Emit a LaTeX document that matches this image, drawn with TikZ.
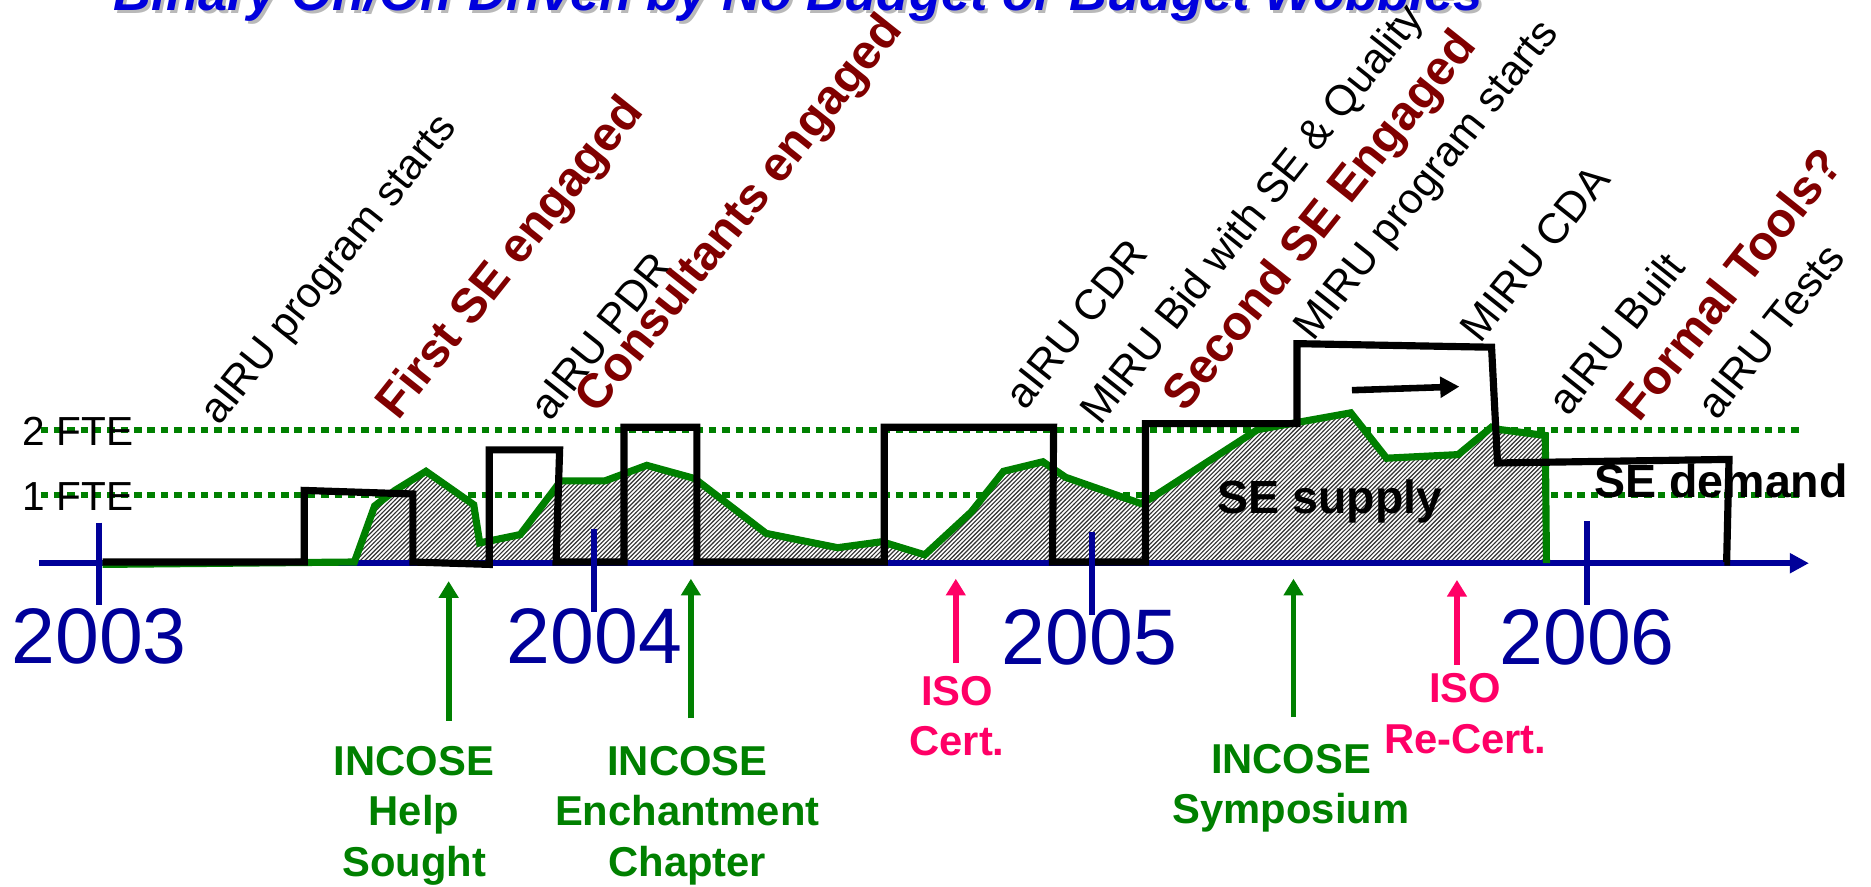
\documentclass[tikz,border=0pt]{standalone}
\usepackage{fontspec}
\setmainfont{Liberation Sans}
\usetikzlibrary{arrows.meta,patterns}
\definecolor{axisblue}{RGB}{0,0,153}
\definecolor{ftegreen}{RGB}{0,128,0}
\definecolor{sered}{RGB}{128,0,0}
\definecolor{isopink}{RGB}{255,0,102}
\definecolor{titleblue}{RGB}{0,0,221}
\pgfdeclarepatternformonly{sehatch}{\pgfqpoint{-1pt}{-1pt}}{\pgfqpoint{4.6pt}{4.6pt}}{\pgfqpoint{3.6pt}{3.6pt}}{%
  \pgfsetlinewidth{0.95pt}%
  \pgfpathmoveto{\pgfqpoint{-0.1pt}{-0.1pt}}%
  \pgfpathlineto{\pgfqpoint{3.7pt}{3.7pt}}%
  \pgfusepath{stroke}}
\begin{document}
\begin{tikzpicture}[x=1pt,y=-1pt,
  lbl/.style={anchor=base west,inner sep=0pt,rotate=51.5,font=\fontsize{35.6}{42}\selectfont},
  redlbl/.style={anchor=base west,inner sep=0pt,rotate=51.5,text=sered,font=\fontsize{40.5}{48}\selectfont\bfseries},
  yearlbl/.style={anchor=base,inner sep=0pt,text=axisblue,font=\fontsize{66}{70}\selectfont},
  ftelbl/.style={anchor=base west,inner sep=0pt,font=\fontsize{34}{40}\selectfont},
  notelbl/.style={anchor=north,inner sep=0pt,align=center,font=\fontsize{35}{42}\selectfont\bfseries},
  bigword/.style={anchor=base west,inner sep=0pt,font=\fontsize{39}{44}\selectfont\bfseries},
  titletext/.style={anchor=base west,inner sep=0pt,font=\fontsize{44}{50}\selectfont\bfseries\itshape},
  fteline/.style={ftegreen,line width=5pt,dash pattern=on 6.2pt off 5pt},
  yeartick/.style={axisblue,line width=4.8pt},
  axisline/.style={axisblue,line width=4.8pt,-{Triangle[length=16pt,width=16pt]}},
  supplyline/.style={ftegreen,line width=6pt},
  demandline/.style={black,line width=6pt},
  evarrow/.style={line width=4.8pt,-{Triangle[length=14pt,width=16pt]}},
  shiftarrow/.style={black,line width=5.5pt,-{Triangle[length=16pt,width=17pt]}}
]
\useasboundingbox (0,0) rectangle (1568,743);
\clip (0,0) rectangle (1568,743);

% title (cropped at the top)
\node[titletext,text=gray!55] (titleshadow) at (97.5,11) {Binary On/Off Driven by No Budget or Budget Wobbles};
\node[titletext,text=titleblue] (title) at (95,8.5) {Binary On/Off Driven by No Budget or Budget Wobbles};

% FTE levels
\coordinate (f2a) at (34,360); \coordinate (f2b) at (1512,360);
\coordinate (f1a) at (34,415); \coordinate (f1b) at (1512,415);
\draw[fteline] (f2a) -- (f2b);
\draw[fteline] (f1a) -- (f1b);

% SE supply area
\path[preaction={fill=white},pattern=sehatch,pattern color=black!80]
  (297,470) -- (314,424) -- (331,411) -- (357,395) -- (397,423) -- (402,455) -- (436,448)
  -- (470,403) -- (507,403) -- (542,390) -- (582,401) -- (642,447) -- (702,459) -- (739,454)
  -- (775,465) -- (814,429) -- (841,395) -- (874,387) -- (893,400) -- (956,422) -- (964,418)
  -- (1054,360) -- (1132,346) -- (1162,384) -- (1222,381) -- (1250,358) -- (1257,360)
  -- (1295,365) -- (1296,470) -- cycle;

% time axis
\coordinate (ax0) at (33,472); \coordinate (ax1) at (1516,472);
\draw[axisline] (ax0) -- (ax1);

% supply outline
\draw[supplyline] (86,473) -- (297,471) -- (314,424) -- (331,411) -- (357,395) -- (397,423)
  -- (402,455) -- (436,448) -- (470,403) -- (507,403) -- (542,390) -- (582,401) -- (642,447)
  -- (702,459) -- (739,454) -- (775,465) -- (814,429) -- (841,395) -- (874,387) -- (893,400)
  -- (956,422) -- (964,418) -- (1054,360) -- (1132,346) -- (1162,384) -- (1222,381)
  -- (1250,358) -- (1257,360) -- (1295,365) -- (1296,472);

% demand
\draw[demandline] (86,471) -- (255,471) -- (255,411) -- (346,414) -- (346,471) -- (410,473)
  -- (410,377) -- (469,377) -- (466,471) -- (523,471) -- (523,358) -- (584,358) -- (584,471)
  -- (741,471) -- (741,358) -- (883,358) -- (882,471) -- (960,471) -- (960,355) -- (1087,355)
  -- (1087,288) -- (1250,291) -- (1255,388) -- (1449,385) -- (1447,471) -- (1445,471);

% MIRU shift arrow
\coordinate (sh0) at (1133,327); \coordinate (sh1) at (1223,324);
\draw[shiftarrow] (sh0) -- (sh1);

% year ticks
\coordinate (t03a) at (83,438);  \coordinate (t03b) at (83,507);
\coordinate (t04a) at (498,443); \coordinate (t04b) at (498,513);
\coordinate (t05a) at (915,446); \coordinate (t05b) at (915,515);
\coordinate (t06a) at (1330,437); \coordinate (t06b) at (1330,507);
\draw[yeartick] (t03a) -- (t03b);
\draw[yeartick] (t04a) -- (t04b);
\draw[yeartick] (t05a) -- (t05b);
\draw[yeartick] (t06a) -- (t06b);

\node[yearlbl] (y2003) at (83,556) {2003};
\node[yearlbl] (y2004) at (498,556) {2004};
\node[yearlbl] (y2005) at (913,557) {2005};
\node[yearlbl] (y2006) at (1330,557) {2006};

\node[ftelbl] (fte2) at (19,373) {2 FTE};
\node[ftelbl] (fte1) at (19,428) {1 FTE};

\node[bigword] (supply) at (1020,430) {SE supply};
\node[bigword] (demand) at (1336,417) {SE demand};

% milestone labels
\node[lbl] (m1) at (184,358) {aIRU program starts};
\node[lbl] (m2) at (461,354) {aIRU PDR};
\node[lbl] (m3) at (859,345) {aIRU CDR};
\node[lbl] (m4) at (922,358) {MIRU Bid with SE \& Quality};
\node[lbl] (m5) at (1101,287) {MIRU program starts};
\node[lbl] (m6) at (1241,289) {MIRU CDA};
\node[lbl] (m7) at (1314,350) {aIRU Built};
\node[lbl] (m8) at (1439,353) {aIRU Tests};

\node[redlbl] (r1) at (334,353) {First SE engaged};
\node[redlbl] (r2) at (501,348) {Consultants engaged};
\node[redlbl] (r3) at (993,347) {Second SE Engaged};
\node[redlbl] (r4) at (1374,355) {Formal Tools?};

% events below the axis
\node[notelbl,text=ftegreen] (help) at (347,625.5) {INCOSE\\Help\\Sought};
\node[notelbl,text=ftegreen] (ench) at (576,625.5) {INCOSE\\Enchantment\\Chapter};
\node[notelbl,text=ftegreen] (symp) at (1082,623.5) {INCOSE\\Symposium};
\node[notelbl,text=isopink] (cert) at (802,566.5) {ISO\\Cert.};
\node[notelbl,text=isopink] (recert) at (1228,564.5) {ISO\\Re-Cert.};

\coordinate (helpa) at (376,604);  \coordinate (helpb) at (376,487);
\coordinate (encha) at (579,602);  \coordinate (enchb) at (579,485);
\coordinate (sympa) at (1084,601); \coordinate (sympb) at (1084,485);
\coordinate (certa) at (801,556);  \coordinate (certb) at (801,485);
\coordinate (recerta) at (1221,557); \coordinate (recertb) at (1221,486);
\draw[evarrow,ftegreen] (helpa) -- (helpb);
\draw[evarrow,ftegreen] (encha) -- (enchb);
\draw[evarrow,ftegreen] (sympa) -- (sympb);
\draw[evarrow,isopink] (certa) -- (certb);
\draw[evarrow,isopink] (recerta) -- (recertb);
\end{tikzpicture}
\end{document}
